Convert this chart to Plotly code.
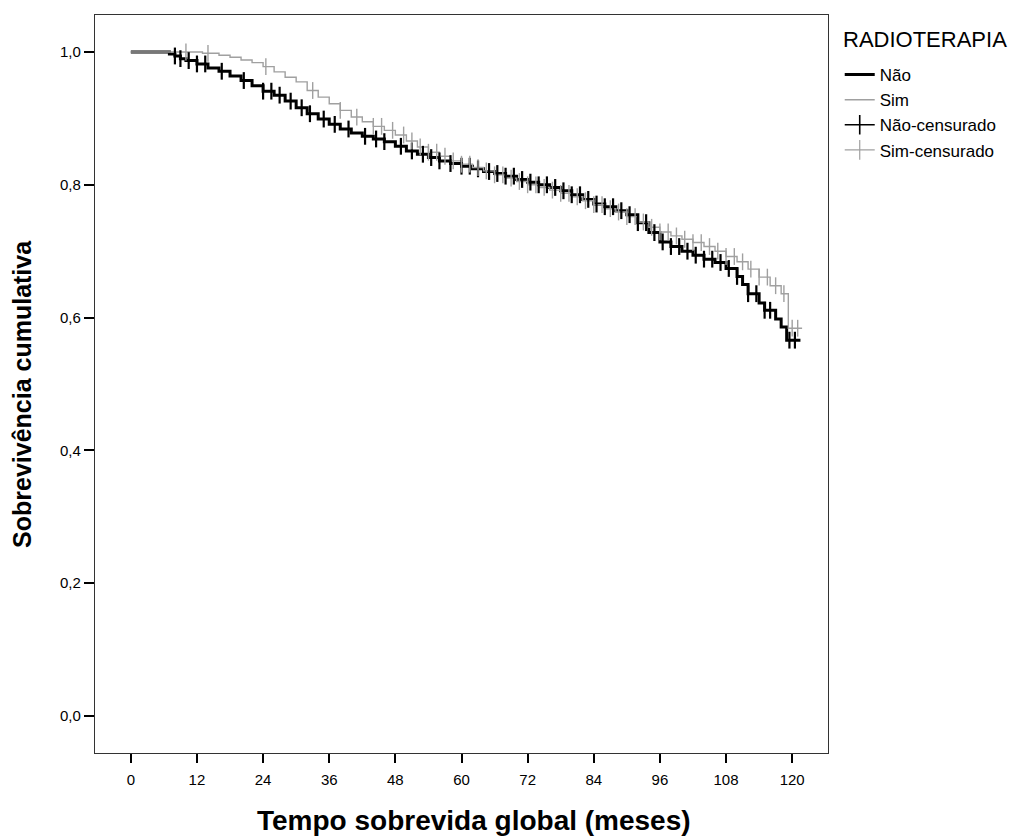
import numpy as np
import plotly.graph_objects as go

# ---------------- data ----------------
nao_t = [0, 7, 8, 9, 10, 12, 14, 16, 18, 20, 22, 24, 26, 28, 30, 32, 34, 36, 38, 40,
         42, 44, 46, 48, 50, 52, 54, 56, 58, 60, 62, 64, 66, 68, 70, 72, 74, 76, 78,
         80, 82, 84, 86, 88, 90, 92, 94, 96, 98, 100, 102, 104, 106, 108, 110, 111,
         112, 114, 115, 117, 118, 119, 121.5]
nao_s = [1.0, 0.997, 0.994, 0.990, 0.987, 0.982, 0.976, 0.971, 0.964, 0.957, 0.949,
         0.941, 0.935, 0.926, 0.916, 0.907, 0.899, 0.891, 0.884, 0.878, 0.873, 0.869,
         0.865, 0.858, 0.851, 0.846, 0.841, 0.836, 0.832, 0.828, 0.824, 0.820, 0.817,
         0.813, 0.808, 0.804, 0.800, 0.796, 0.791, 0.785, 0.778, 0.771, 0.767, 0.761,
         0.755, 0.743, 0.728, 0.714, 0.707, 0.700, 0.694, 0.688, 0.683, 0.674, 0.662,
         0.650, 0.636, 0.622, 0.611, 0.598, 0.586, 0.566, 0.566]

sim_t = [0, 12, 13, 16, 18, 20, 22, 24, 26, 28, 30, 32, 34, 36, 38, 40, 42, 44, 46,
         48, 50, 52, 54, 56, 58, 60, 62, 64, 66, 68, 70, 72, 74, 76, 78, 80, 82, 84,
         86, 88, 90, 92, 94, 96, 98, 100, 102, 104, 106, 108, 110, 112, 114, 116, 118,
         119.3, 121.8]
sim_s = [1.0, 1.0, 0.998, 0.995, 0.992, 0.988, 0.984, 0.978, 0.970, 0.962, 0.955,
         0.942, 0.932, 0.922, 0.912, 0.902, 0.895, 0.888, 0.882, 0.875, 0.866, 0.857,
         0.849, 0.843, 0.836, 0.831, 0.826, 0.821, 0.815, 0.810, 0.805, 0.800, 0.796,
         0.792, 0.787, 0.782, 0.776, 0.770, 0.764, 0.759, 0.752, 0.744, 0.736, 0.729,
         0.723, 0.718, 0.713, 0.707, 0.700, 0.692, 0.684, 0.673, 0.661, 0.648, 0.636,
         0.584, 0.584]

nao_cens_t = [8, 9, 10.5, 12, 13.5, 16.5, 20.5, 24, 25.5, 27, 29, 31, 32.5, 35, 37,
              39.5, 42.5, 44.5, 46, 49, 51, 53, 54.5, 56, 58, 60, 61.5, 63, 65, 66.5,
              68, 69.5, 71, 72.5, 74, 75.5, 77, 78.5, 80, 81.5, 83, 84.5, 86, 87.5, 89,
              90.5, 92, 93.5, 95, 96.5, 98, 99.5, 101, 102.5, 104, 105.5, 107, 108.5,
              110, 112, 113.5, 115, 116, 119.5, 120.5]
sim_cens_t = [10, 14, 24.5, 33, 38, 41, 44, 45.5, 47.5, 49.5, 51, 52.5, 54, 55.5, 57,
              58.5, 60, 61.5, 63, 64.5, 66, 67.5, 69, 70.5, 72, 73.5, 75, 76.5, 78,
              79.5, 81, 82.5, 84, 85.5, 87, 88.5, 90, 91.5, 93, 94.5, 96, 97.5, 99,
              100.5, 102, 103.5, 105, 106.5, 108, 109.5, 111, 112.5, 114, 115.5, 117,
              118.5, 120, 121]

x_ticks = [0, 12, 24, 36, 48, 60, 72, 84, 96, 108, 120]


def step_lookup(times, surv, q):
    idx = np.searchsorted(np.asarray(times), np.asarray(q), side="right") - 1
    idx = np.clip(idx, 0, len(surv) - 1)
    return np.asarray(surv)[idx]


BLACK = "#000000"
GRAY = "#a0a0a0"
FONT = "Liberation Sans, Arial, sans-serif"

fig = go.Figure()

# step curves
fig.add_trace(go.Scatter(x=nao_t, y=nao_s, mode="lines", name="Não",
                         line=dict(color=BLACK, width=3, shape="hv")))
fig.add_trace(go.Scatter(x=sim_t, y=sim_s, mode="lines", name="Sim",
                         line=dict(color=GRAY, width=1.4, shape="hv")))

# censor marks
fig.add_trace(go.Scatter(x=nao_cens_t, y=step_lookup(nao_t, nao_s, nao_cens_t),
                         mode="markers", showlegend=False,
                         marker=dict(symbol="line-ns-open", size=12, color=BLACK,
                                     line=dict(color=BLACK, width=2.2))))
fig.add_trace(go.Scatter(x=sim_cens_t, y=step_lookup(sim_t, sim_s, sim_cens_t),
                         mode="markers", showlegend=False,
                         marker=dict(symbol="line-ns-open", size=12, color=GRAY,
                                     line=dict(color=GRAY, width=1.4))))

# legend-only entries for the censor marks
fig.add_trace(go.Scatter(x=[None], y=[None], mode="lines+markers", name="Não-censurado",
                         line=dict(color=BLACK, width=1.6),
                         marker=dict(symbol="line-ns-open", size=14, color=BLACK,
                                     line=dict(color=BLACK, width=1.6))))
fig.add_trace(go.Scatter(x=[None], y=[None], mode="lines+markers", name="Sim-censurado",
                         line=dict(color=GRAY, width=1.2),
                         marker=dict(symbol="line-ns-open", size=14, color=GRAY,
                                     line=dict(color=GRAY, width=1.2))))

axis_font = dict(family=FONT, size=15, color="#000")

fig.update_layout(
    width=1022, height=837,
    margin=dict(l=87, r=202, t=7, b=92, autoexpand=False),
    paper_bgcolor="white", plot_bgcolor="white",
    separators=",.",
    showlegend=True,
    legend=dict(x=1.016, y=0.943, xanchor="left", yanchor="top",
                font=dict(family=FONT, size=17, color="#000"),
                itemwidth=30, tracegroupgap=0, bgcolor="rgba(0,0,0,0)"),
    xaxis=dict(range=[-6.5, 126.5], tickvals=x_ticks, ticktext=[str(v) for v in x_ticks],
               ticks="outside", ticklen=9, tickwidth=2, tickcolor="#000",
               ticklabelstandoff=4,
               showline=True, mirror=True, linecolor="#333", linewidth=1.2,
               showgrid=False, zeroline=False, tickfont=axis_font),
    yaxis=dict(range=[-0.0557, 1.0557], tickvals=[0, 0.2, 0.4, 0.6, 0.8, 1.0],
               tickformat=".1f", ticks="outside", ticklen=10, tickwidth=2, tickcolor="#000",
               showline=True, mirror=True, linecolor="#333", linewidth=1.2,
               showgrid=False, zeroline=False, tickfont=axis_font),
    annotations=[
        dict(text="RADIOTERAPIA", xref="paper", yref="paper",
             x=1.0177, y=0.9665, xanchor="left", yanchor="middle", showarrow=False,
             font=dict(family=FONT, size=22, color="#000")),
        dict(text="<b>Tempo sobrevida global (meses)</b>", xref="paper", yref="paper",
             x=0.517, y=-0.091, xanchor="center", yanchor="middle", showarrow=False,
             font=dict(family=FONT, size=28, color="#000")),
        dict(text="<b>Sobrevivência cumulativa</b>", xref="paper", yref="paper",
             x=-0.0996, y=0.4865, xanchor="center", yanchor="middle", showarrow=False,
             textangle=-90, font=dict(family=FONT, size=25, color="#000")),
    ],
)

fig.write_html("out.html")
